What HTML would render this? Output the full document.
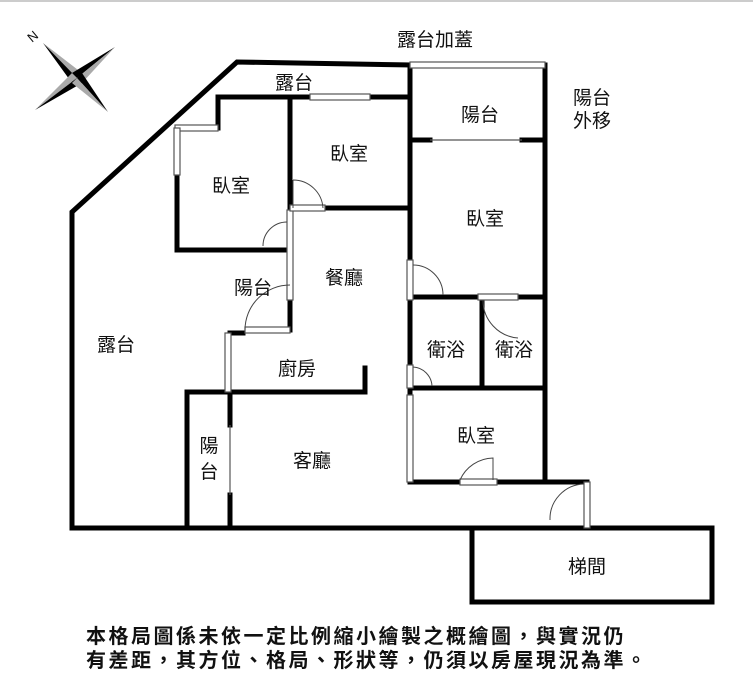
<!DOCTYPE html><html><head><meta charset="utf-8"><style>
html,body{margin:0;padding:0;background:#fff}
svg{display:block}
text{font-family:"Liberation Sans","Noto Sans CJK TC",sans-serif;fill:#111}
</style></head><body>
<svg width="753" height="676" viewBox="0 0 753 676" xmlns="http://www.w3.org/2000/svg">
<rect x="0" y="0" width="753" height="2" fill="#ccc"/>
<g>
<polygon points="43,43 82,73 77,78" fill="#aaa"/><polygon points="43,43 72,83 77,78" fill="#000"/>
<polygon points="115,47 72,73 77,78" fill="#000"/><polygon points="115,47 82,83 77,78" fill="#aaa"/>
<polygon points="35,110 72,73 77,78" fill="#aaa"/><polygon points="35,110 82,83 77,78" fill="#000"/>
<polygon points="108,112 82,73 77,78" fill="#000"/><polygon points="108,112 72,83 77,78" fill="#aaa"/>
<text x="28" y="40" font-size="13" transform="rotate(-40 34 36)">N</text>
</g>
<g stroke="#000" stroke-width="5" fill="none" stroke-linecap="square">
<polyline points="72,528 72,212 237,62 410,65"/>
<line x1="545" y1="65" x2="545" y2="478"/>
<polyline points="410,482 587,482"/>
<polyline points="72,528 710,528"/>
<rect x="472" y="528" width="240" height="74"/>
<polyline points="310,97 218,97 218,128"/>
<line x1="370" y1="97" x2="410" y2="97"/>
<polyline points="177,175 177,250 290,250"/>
<line x1="290" y1="97" x2="290" y2="210"/>
<line x1="290" y1="300" x2="290" y2="330"/>
<line x1="325" y1="208" x2="410" y2="208"/>
<line x1="410" y1="65" x2="410" y2="260"/>
<line x1="410" y1="300" x2="410" y2="365"/>
<line x1="410" y1="388" x2="410" y2="395"/>
<line x1="410" y1="140" x2="430" y2="140"/><line x1="522" y1="140" x2="545" y2="140"/>
<line x1="410" y1="297" x2="478" y2="297"/><line x1="518" y1="297" x2="545" y2="297"/>
<line x1="482" y1="297" x2="482" y2="388"/>
<line x1="410" y1="388" x2="545" y2="388"/>
<line x1="275" y1="330" x2="290" y2="330"/>
<line x1="230" y1="333" x2="243" y2="333"/>
<polyline points="187,528 187,392 365,392 365,368"/>
<line x1="230" y1="392" x2="230" y2="425"/><line x1="230" y1="495" x2="230" y2="528"/>
</g>
<g fill="#fff" stroke="#555" stroke-width="1.2">
<rect x="410" y="62" width="135" height="6"/>
<rect x="310" y="94" width="60" height="6"/>
<rect x="175" y="125" width="43" height="6"/>
<rect x="174" y="128" width="6" height="47"/>
<rect x="287" y="210" width="6" height="90"/>
<rect x="407" y="260" width="6" height="40"/>
<rect x="407" y="365" width="6" height="23"/>
<rect x="407" y="395" width="6" height="87"/>
<rect x="225" y="333" width="6" height="59"/>
<rect x="478" y="294" width="40" height="6"/>
<rect x="290" y="205" width="35" height="6"/>
<rect x="245" y="327" width="45" height="6"/>
<rect x="460" y="479" width="37" height="6"/>
<rect x="584" y="482" width="6" height="46"/>
<line x1="430" y1="140" x2="522" y2="140"/>
<line x1="230" y1="425" x2="230" y2="495"/>
</g>
<g fill="none" stroke="#444" stroke-width="1">
<path d="M293,180 A30,30 0 0 1 323,208 M293,180 L293,208"/>
<path d="M287,222 A24,24 0 0 0 263,246"/>
<path d="M245,330 A45,45 0 0 1 290,285"/>
<path d="M413,265 A30,30 0 0 1 443,295"/>
<path d="M483,300 A38,38 0 0 0 518,338"/>
<path d="M413,367 A20,20 0 0 1 432,386"/>
<path d="M460,480 A37,37 0 0 1 493,458 L493,480"/>
<path d="M584,484 A35,35 0 0 0 550,520"/>
</g>
<g font-size="19" text-anchor="middle">
<text x="435" y="46">露台加蓋</text>
<text x="294" y="89">露台</text>
<text x="480" y="121">陽台</text>
<text x="592" y="104">陽台</text><text x="592" y="127">外移</text>
<text x="349" y="160">臥室</text>
<text x="231" y="192">臥室</text>
<text x="485" y="225">臥室</text>
<text x="344" y="284">餐廳</text>
<text x="253" y="294">陽台</text>
<text x="116" y="351">露台</text>
<text x="446" y="356">衛浴</text>
<text x="514" y="356">衛浴</text>
<text x="297" y="375" font-family="Liberation Serif,Noto Serif CJK SC,serif" fill="#000">廚房</text>
<text x="476" y="442">臥室</text>
<text x="312" y="467">客廳</text>
<text x="209" y="452">陽</text><text x="209" y="478">台</text>
<text x="587" y="573">梯間</text>
</g>
<g font-size="20" font-weight="bold" letter-spacing="2.5">
<text x="86" y="643">本格局圖係未依一定比例縮小繪製之概繪圖，與實況仍</text>
<text x="86" y="667">有差距，其方位、格局、形狀等，仍須以房屋現況為準。</text>
</g>
</svg>
</body></html>
